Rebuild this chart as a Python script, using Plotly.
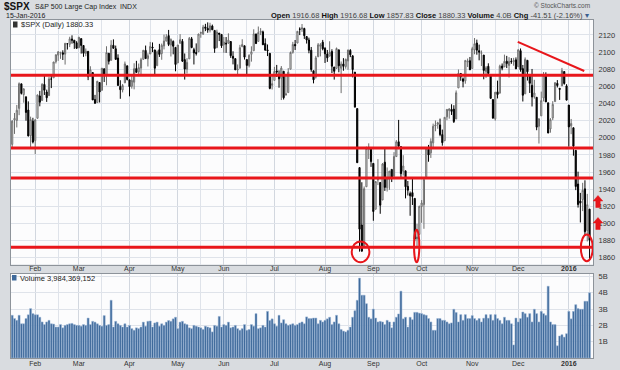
import plotly.graph_objects as go
import pandas as pd

# ---------------- data ----------------
holidays = ['2015-01-19', '2015-02-16', '2015-04-03', '2015-05-25', '2015-07-03',
            '2015-09-07', '2015-11-26', '2015-12-25', '2016-01-01']
dates = [d for d in pd.bdate_range('2015-01-16', '2016-01-15')
         if d.strftime('%Y-%m-%d') not in holidays]

opens = [1992.25, 2020.76, 2020.19, 2034.30, 2062.98, 2050.42, 2047.86, 2032.34, 2002.45, 2019.35,
         1996.67, 2022.71, 2048.86, 2043.45, 2062.28, 2053.47, 2049.38, 2068.55, 2069.98, 2088.78,
         2096.47, 2099.16, 2099.25, 2097.65, 2109.83, 2109.10, 2115.30, 2113.91, 2110.88,
         2105.23, 2115.76, 2107.72, 2098.54, 2100.91, 2072.25, 2076.14, 2044.69, 2041.10, 2064.56,
         2055.35, 2080.59, 2072.84, 2098.69, 2090.32, 2107.99, 2103.94, 2093.10, 2059.94, 2055.78,
         2064.11, 2084.05,
         2067.63, 2060.03, 2064.87, 2080.79, 2076.94, 2081.29, 2091.51, 2102.03, 2092.28, 2097.82,
         2105.96, 2102.58, 2084.11, 2102.82, 2098.27, 2107.21, 2112.80, 2119.29, 2108.35, 2112.49,
         2105.52,
         2087.38, 2110.23, 2112.63, 2091.26, 2079.96, 2092.13, 2115.56, 2102.87, 2099.62, 2100.43,
         2122.07, 2121.30, 2129.45, 2127.79, 2125.55, 2130.36, 2125.34, 2105.13, 2122.27, 2120.66,
         2108.64, 2110.41, 2110.64, 2112.35, 2095.09, 2092.34, 2079.07, 2081.12, 2106.24, 2107.43,
         2091.34, 2084.26, 2097.40, 2101.58, 2121.06, 2112.50, 2123.16, 2123.65, 2109.96, 2102.62,
         2098.63, 2061.19,
         2067.00, 2078.03, 2073.95, 2069.52, 2077.66, 2049.73, 2052.74, 2080.03, 2099.72, 2109.01,
         2110.55, 2126.80, 2126.85, 2127.55, 2118.21, 2114.16, 2102.24, 2078.19, 2070.75, 2094.70,
         2106.78, 2111.60,
         2104.49, 2097.68, 2095.27, 2100.75, 2082.61, 2080.98, 2102.66, 2081.10, 2086.19, 2083.15,
         2089.70, 2101.99, 2095.69, 2076.61, 2034.08, 1965.15, 1898.08, 1872.75, 1942.77, 1986.06,
         1986.73,
         1970.09, 1916.52, 1950.79, 1947.76, 1927.30, 1971.45, 1941.59, 1951.45, 1963.06, 1955.10,
         1978.02, 1995.33, 1989.66, 1960.84, 1961.39, 1943.24, 1934.81, 1935.93, 1929.18, 1881.90,
         1887.14,
         1919.65, 1921.77, 1954.33, 1986.63, 1982.34, 1994.01, 2013.73, 2015.65, 2015.00, 2003.66,
         1996.47, 2024.37, 2031.73, 2033.13, 2033.47, 2021.88, 2058.19, 2075.08, 2068.75, 2066.48,
         2088.35, 2090.00,
         2080.76, 2102.63, 2110.60, 2101.68, 2098.60, 2096.56, 2077.19, 2083.41, 2072.29, 2044.64,
         2022.08, 2053.67, 2051.99, 2083.70, 2082.82, 2089.41, 2084.42, 2089.30, 2088.82, 2090.95,
         2082.93, 2101.71, 2080.71, 2051.24, 2090.42, 2073.39, 2061.17, 2047.93, 2047.27, 2013.37,
         2025.55, 2046.50, 2073.76, 2040.81, 2010.27, 2023.15, 2042.20, 2063.52, 2057.77, 2060.54,
         2077.34, 2060.59,
         2038.20, 2013.78, 2011.71, 1985.32, 1945.97, 1926.12, 1927.83, 1940.34, 1891.68, 1916.68]

highs = [2020.46, 2028.94, 2038.29, 2064.62, 2062.98, 2057.62, 2047.86, 2042.49, 2024.64, 2023.32,
         2021.66, 2050.30, 2054.74, 2063.55, 2072.40, 2056.16, 2070.86, 2073.48, 2088.53, 2097.03,
         2101.30, 2100.23, 2102.13, 2110.61, 2110.05, 2117.94, 2119.59, 2113.91, 2112.74,
         2117.52, 2115.76, 2107.72, 2104.25, 2100.91, 2083.49, 2076.14, 2050.08, 2066.41, 2064.56,
         2081.41, 2080.59, 2106.85, 2098.69, 2113.92, 2114.86, 2107.63, 2097.43, 2067.15, 2062.83,
         2088.97, 2084.05,
         2067.63, 2072.17, 2086.99, 2089.81, 2086.69, 2093.31, 2102.61, 2107.65, 2098.62, 2111.91,
         2111.30, 2102.58, 2101.94, 2109.64, 2109.98, 2120.49, 2120.92, 2125.92, 2116.04, 2113.65,
         2105.52,
         2108.41, 2120.95, 2115.24, 2098.42, 2092.90, 2117.66, 2117.69, 2105.06, 2110.19, 2121.45,
         2123.89, 2131.78, 2133.02, 2134.72, 2134.28, 2132.15, 2125.34, 2126.22, 2122.27, 2120.66,
         2117.61, 2117.59, 2121.92, 2112.89, 2100.99, 2093.01, 2085.62, 2108.50, 2115.02, 2107.43,
         2091.34, 2097.40, 2106.79, 2126.65, 2121.64, 2129.87, 2128.03, 2125.10, 2116.04, 2108.92,
         2098.63, 2074.28,
         2082.78, 2085.06, 2078.61, 2083.74, 2077.66, 2074.28, 2081.31, 2100.67, 2111.98, 2114.14,
         2124.42, 2128.91, 2132.82, 2128.49, 2118.51, 2116.87, 2106.01, 2078.19, 2095.60, 2110.60,
         2110.48, 2114.24,
         2105.70, 2102.51, 2112.66, 2103.32, 2082.61, 2105.35, 2102.66, 2089.06, 2092.93, 2092.45,
         2102.87, 2103.47, 2096.17, 2076.61, 2034.08, 1965.15, 1948.04, 1943.09, 1989.60, 1993.48,
         1986.73,
         1970.09, 1948.91, 1975.01, 1947.76, 1970.42, 1988.63, 1965.29, 1961.05, 1963.06, 1983.19,
         1997.26, 2020.86, 1989.66, 1979.64, 1961.39, 1949.52, 1937.17, 1952.89, 1929.18, 1899.48,
         1920.53,
         1927.21, 1951.36, 1989.17, 1991.62, 1999.31, 2016.50, 2020.13, 2018.66, 2022.34, 2009.56,
         2024.15, 2033.54, 2034.45, 2039.12, 2037.97, 2055.20, 2079.74, 2075.14, 2070.37, 2090.35,
         2092.52, 2094.32,
         2106.20, 2116.48, 2114.59, 2108.78, 2101.91, 2096.56, 2083.67, 2086.94, 2072.29, 2044.64,
         2053.22, 2066.69, 2085.31, 2086.74, 2097.06, 2095.61, 2094.12, 2093.00, 2093.29, 2093.81,
         2103.37, 2104.27, 2085.00, 2093.84, 2090.42, 2073.85, 2080.33, 2067.65, 2047.27, 2022.92,
         2053.87, 2076.72, 2076.37, 2040.81, 2022.90, 2042.74, 2064.73, 2067.36, 2057.77, 2081.56,
         2077.34, 2062.54,
         2038.20, 2021.94, 2011.71, 1985.32, 1960.40, 1935.65, 1947.38, 1950.33, 1934.47, 1916.68]

lows = [1988.12, 2004.49, 2012.04, 2026.38, 2050.54, 2040.97, 2019.91, 2001.49, 1989.18, 1993.38,
        1980.90, 2022.71, 2036.72, 2043.45, 2049.97, 2041.88, 2048.62, 2057.99, 2069.98, 2086.70,
        2089.80, 2092.15, 2090.79, 2085.44, 2103.00, 2105.87, 2109.89, 2103.76, 2103.75,
        2104.50, 2098.26, 2094.49, 2095.22, 2067.27, 2072.21, 2044.16, 2039.69, 2041.10, 2041.17,
        2055.35, 2065.08, 2061.23, 2085.56, 2090.32, 2104.42, 2091.50, 2061.05, 2045.50, 2052.96,
        2064.11, 2067.04,
        2048.38, 2057.32, 2056.52, 2076.10, 2073.30, 2074.29, 2091.51, 2092.33, 2083.24, 2097.82,
        2100.02, 2072.37, 2084.11, 2094.38, 2091.05, 2103.19, 2112.80, 2107.04, 2094.89, 2097.41,
        2077.59,
        2087.38, 2110.23, 2088.46, 2067.93, 2074.99, 2092.13, 2104.58, 2085.57, 2096.04, 2100.43,
        2116.81, 2120.01, 2124.50, 2122.59, 2122.95, 2126.06, 2099.18, 2105.13, 2112.86, 2104.89,
        2099.14, 2099.14, 2109.61, 2093.23, 2085.67, 2079.11, 2072.14, 2081.12, 2106.24, 2091.33,
        2072.49, 2082.10, 2088.86, 2101.58, 2109.45, 2112.50, 2119.89, 2108.58, 2101.78, 2095.38,
        2056.64, 2056.32,
        2067.00, 2071.02, 2058.40, 2044.02, 2044.66, 2049.73, 2052.74, 2080.03, 2098.18, 2102.49,
        2110.55, 2119.88, 2123.66, 2115.40, 2110.00, 2098.63, 2077.09, 2063.52, 2069.09, 2094.08,
        2094.97, 2102.07,
        2087.31, 2088.60, 2095.27, 2075.53, 2067.91, 2080.98, 2076.49, 2052.09, 2078.26, 2080.61,
        2079.30, 2094.14, 2070.53, 2035.73, 1970.89, 1867.01, 1867.08, 1872.75, 1942.77, 1975.19,
        1965.98,
        1903.07, 1916.52, 1944.72, 1911.21, 1927.30, 1937.88, 1937.19, 1939.19, 1948.27, 1954.30,
        1977.93, 1986.73, 1953.45, 1955.80, 1929.22, 1932.57, 1908.92, 1921.50, 1879.21, 1871.91,
        1887.14,
        1900.70, 1893.70, 1954.33, 1971.99, 1976.44, 1987.53, 2007.61, 2010.55, 2001.78, 1990.73,
        1996.47, 2020.46, 2022.31, 2026.61, 2017.22, 2021.88, 2058.19, 2066.53, 2058.84, 2063.11,
        2082.63, 2079.34,
        2080.76, 2097.51, 2096.98, 2090.41, 2083.74, 2068.24, 2069.91, 2074.85, 2045.66, 2022.02,
        2019.94, 2045.90, 2051.99, 2078.76, 2082.82, 2081.39, 2070.29, 2086.30, 2084.13, 2080.41,
        2082.93, 2077.11, 2042.35, 2051.24, 2066.78, 2052.32, 2036.53, 2045.67, 2008.80, 1993.26,
        2025.55, 2042.43, 2041.66, 2005.33, 2005.93, 2020.49, 2042.20, 2058.73, 2044.20, 2060.54,
        2061.97, 2043.62,
        1989.68, 2004.17, 1979.05, 1938.83, 1918.46, 1901.10, 1914.35, 1886.41, 1878.93, 1857.83]

closes = [2019.42, 2022.55, 2032.12, 2063.15, 2051.82, 2057.09, 2029.55, 2002.16, 2021.25, 1994.99,
          2020.85, 2050.03, 2041.51, 2062.52, 2055.47, 2046.74, 2068.59, 2068.53, 2088.48, 2096.99,
          2100.34, 2099.68, 2097.45, 2110.30, 2109.66, 2115.48, 2113.86, 2110.74, 2104.50,
          2117.39, 2107.78, 2098.53, 2101.04, 2071.26, 2079.43, 2044.16, 2040.24, 2065.95, 2053.40,
          2081.19, 2074.28, 2099.50, 2089.27, 2108.10, 2104.42, 2091.50, 2061.05, 2056.15, 2061.02,
          2086.24, 2067.89,
          2059.69, 2066.96, 2080.62, 2076.33, 2081.90, 2091.18, 2102.06, 2092.43, 2095.84, 2106.63,
          2104.99, 2081.18, 2100.40, 2097.29, 2107.96, 2112.93, 2117.69, 2108.92, 2114.76, 2106.85,
          2085.51,
          2108.29, 2114.49, 2089.46, 2080.15, 2088.00, 2116.10, 2105.33, 2099.12, 2098.48, 2121.10,
          2122.73, 2129.20, 2127.83, 2125.85, 2130.82, 2126.06, 2104.20, 2123.48, 2120.79, 2107.39,
          2111.73, 2109.60, 2114.07, 2095.84, 2092.83, 2079.28, 2080.15, 2105.20, 2108.86, 2094.11,
          2084.43, 2096.29, 2100.44, 2121.24, 2109.99, 2122.85, 2124.20, 2108.58, 2102.31, 2101.49,
          2057.64, 2063.11,
          2077.42, 2076.78, 2068.76, 2081.34, 2046.68, 2051.31, 2076.62, 2099.60, 2108.95, 2107.40,
          2124.29, 2126.64, 2128.28, 2119.21, 2114.15, 2102.15, 2079.65, 2067.64, 2093.25, 2108.57,
          2108.63, 2103.84,
          2098.04, 2093.32, 2099.84, 2083.56, 2077.57, 2104.18, 2084.07, 2086.05, 2083.39, 2091.54,
          2102.44, 2096.92, 2079.61, 2035.73, 1970.89, 1893.21, 1867.61, 1940.51, 1987.66, 1988.87,
          1972.18,
          1913.85, 1948.86, 1951.13, 1921.22, 1969.41, 1942.04, 1952.29, 1961.05, 1953.03, 1978.09,
          1995.31, 1990.20, 1958.03, 1966.97, 1942.74, 1938.76, 1932.24, 1931.34, 1881.77, 1884.09,
          1920.03,
          1923.82, 1951.36, 1987.05, 1979.92, 1995.83, 2013.43, 2014.89, 2017.46, 2003.69, 1994.24,
          2023.86, 2033.11, 2033.66, 2030.77, 2018.94, 2052.51, 2075.15, 2071.18, 2065.89, 2090.35,
          2089.41, 2079.36,
          2104.05, 2109.79, 2102.31, 2099.93, 2099.20, 2078.58, 2081.72, 2075.00, 2045.97, 2023.04,
          2053.19, 2050.44, 2083.58, 2081.24, 2089.17, 2086.59, 2089.14, 2088.87, 2090.11, 2080.41,
          2102.63, 2079.51, 2049.62, 2091.69, 2077.07, 2063.59, 2047.62, 2052.23, 2012.37, 2021.94,
          2043.41, 2073.07, 2041.89, 2005.55, 2021.15, 2038.97, 2064.29, 2060.99, 2056.50, 2078.36,
          2063.36, 2043.94,
          2012.66, 2016.71, 1990.26, 1943.09, 1922.03, 1923.67, 1938.68, 1890.28, 1921.84, 1880.33]

# volume in billions
volumes = [2.62, 2.42, 2.31, 2.62, 2.10, 2.10, 2.42, 2.65, 3.03, 2.72,
           2.65, 2.65, 2.50, 2.21, 2.05, 2.21, 2.31, 2.10, 2.08, 1.90, 1.90, 2.05, 1.85, 2.00,
           2.05, 2.10, 2.12, 2.05, 2.00,
           2.00, 1.95, 2.05, 2.00, 2.45, 2.05, 2.25, 2.20, 2.10, 2.00, 1.95, 2.60, 2.00, 2.05,
           3.54, 1.90, 2.25, 2.10, 2.00, 1.90, 2.10, 1.90,
           2.00, 1.80, 1.70, 1.85, 1.80, 1.90, 2.20, 1.95, 2.25, 2.27, 1.90, 2.15, 2.20, 1.95,
           2.10, 2.00, 2.20, 2.30, 2.25, 2.40, 2.50,
           1.80, 2.20, 2.25, 2.10, 2.05, 1.85, 1.80, 2.00, 1.95, 1.90, 1.85, 1.75, 1.95, 1.90,
           1.85, 1.60, 2.00, 1.95, 2.55, 1.90,
           2.05, 2.00, 2.20, 1.85, 1.90, 2.00, 1.80, 1.70, 1.80, 2.05, 1.70, 1.75, 2.05, 1.95,
           2.72, 1.80, 1.85, 2.00, 1.90, 2.86, 2.30, 2.40,
           2.10, 1.95, 2.62, 2.15, 2.35, 2.10, 2.00, 2.05, 2.10, 2.00, 2.05, 2.15, 2.21, 2.10,
           2.52, 2.42, 2.42, 2.45, 2.45, 2.10, 2.31, 2.21,
           2.31, 2.40, 2.50, 2.05, 2.21, 2.62, 2.10, 1.75, 1.65, 1.60, 1.70, 1.90, 2.50, 2.90,
           3.54, 4.90, 3.85, 3.85, 3.33, 2.50, 2.40,
           3.00, 2.45, 2.21, 2.25, 2.21, 2.05, 2.31, 2.21, 1.85, 2.21, 2.50, 2.70, 4.10, 2.40,
           2.50, 1.90, 2.50, 2.35, 2.80, 2.80, 2.75,
           2.72, 2.66, 2.62, 2.42, 2.21, 1.70, 1.70, 2.42, 2.42, 2.31, 2.31, 2.21, 2.10, 2.15,
           2.99, 2.79, 2.21, 2.66, 2.31, 2.66, 2.42, 2.42,
           2.60, 2.42, 2.31, 2.42, 2.21, 2.44, 2.66, 2.44, 2.66, 2.31, 2.66, 2.42, 2.31, 2.10,
           2.50, 2.31, 2.31, 2.10, 0.80, 2.45,
           2.21, 2.42, 2.82, 2.72, 2.50, 2.72, 2.21, 2.99, 2.72, 2.21, 2.86, 2.72, 2.62, 4.40,
           2.21, 2.05, 2.05, 0.75, 1.35, 1.43, 1.28, 1.49,
           2.86, 2.40, 2.86, 3.27, 3.03, 2.99, 2.99, 3.48, 3.48, 4.00]

price_ticks = [1860, 1880, 1900, 1920, 1940, 1960, 1980, 2000, 2020, 2040, 2060, 2080, 2100, 2120]
volume_ticks = [1, 2, 3, 4, 5]
volume_labels = ['1B', '2B', '3B', '4B', '5B']
month_names = ['Feb', 'Mar', 'Apr', 'May', 'Jun', 'Jul', 'Aug', 'Sep', 'Oct', 'Nov', 'Dec', '2016']

# annotation levels drawn on the chart
support_levels = [2073, 1988, 1953, 1872]
trend_line = [(219.8, 2112), (248.7, 2078)]
circled = [(147.6, 155.3, 1854.6, 1879.0), (174.7, 177.0, 1854.6, 1892.7), (247.2, 252.4, 1855.8, 1886.9)]

# ---------------- figure ----------------
W, H = 620, 370
ML, MR, MT, MB = 11, 27, 20, 12
PW, PH = W - ML - MR, H - MT - MB
PRICE_BOTTOM_PX, VOL_TOP_PX = 264.5, 274


def px_x(p):
    return (p - ML) / PW


def px_y(p):
    return (H - MB - p) / PH


n = len(dates)
assert n == len(closes) == len(opens) == len(highs) == len(lows) == len(volumes)
xs = list(range(n))

month_idx = []
for k in range(1, n):
    if dates[k].month != dates[k - 1].month:
        month_idx.append(k)
mid_idx = []
for k in range(1, n):
    if dates[k].day >= 15 and dates[k - 1].day < 15:
        mid_idx.append(k)
ticktext = [('<b>%s</b>' % t if t == '2016' else t) for t in month_names]

fig = go.Figure()
fig.add_trace(go.Candlestick(
    x=xs, open=opens, high=highs, low=lows, close=closes,
    xaxis='x', yaxis='y', whiskerwidth=0,
    increasing=dict(line=dict(color='#6e6e6e', width=1), fillcolor='#ffffff'),
    decreasing=dict(line=dict(color='#000000', width=1), fillcolor='#000000'),
    showlegend=False, hoverinfo='skip'))
fig.add_trace(go.Bar(
    x=xs, y=volumes, xaxis='x2', yaxis='y2',
    marker=dict(color='#3f6a9b', line=dict(color='#9fb9d8', width=0.5)),
    showlegend=False, hoverinfo='skip'))

font_family = 'Arial, Liberation Sans, sans-serif'
grid_c = '#dfe3ea'
axis_common = dict(showline=True, linecolor='#8d939a', linewidth=1, mirror=True,
                   zeroline=False, fixedrange=True, automargin=False)
x_common = dict(range=[-0.52, 252.5], tickmode='array', tickvals=month_idx, ticktext=ticktext,
                ticks='', showgrid=True, gridcolor='#d2d7df', gridwidth=1,
                minor=dict(tickmode='array', tickvals=mid_idx, showgrid=True, gridcolor=grid_c),
                tickfont=dict(size=7, color='#333333', family=font_family), **axis_common)
y_common = dict(side='right', tickmode='array', ticks='outside', ticklen=3,
                tickcolor='rgba(0,0,0,0)', showgrid=True, gridcolor=grid_c,
                tickfont=dict(size=7.5, color='#333333', family=font_family), **axis_common)

fig.update_layout(
    template='none',
    width=W, height=H,
    margin=dict(l=ML, r=MR, t=MT, b=MB, autoexpand=False),
    paper_bgcolor='#d9dce0', plot_bgcolor='#fcfcfd',
    bargap=0.12,
    xaxis=dict(domain=[0, 1], anchor='y', rangeslider=dict(visible=False),
               ticklabelstandoff=-3, **x_common),
    xaxis2=dict(domain=[0, 1], anchor='y2', matches='x', ticklabelstandoff=-1, **x_common),
    yaxis=dict(domain=[px_y(PRICE_BOTTOM_PX), 1], range=[1852, 2137.5],
               tickvals=price_ticks, **y_common),
    yaxis2=dict(domain=[0, px_y(VOL_TOP_PX)], range=[0, 5.15],
                tickvals=volume_ticks, ticktext=volume_labels, **y_common),
)

shapes = []
for lvl in support_levels:
    shapes.append(dict(type='line', xref='x domain', yref='y', x0=0, x1=1, y0=lvl, y1=lvl,
                       line=dict(color='#e8161b', width=3)))
shapes.append(dict(type='line', xref='x', yref='y', x0=trend_line[0][0], y0=trend_line[0][1],
                   x1=trend_line[1][0], y1=trend_line[1][1], line=dict(color='#e8161b', width=2)))
for (a, b, c, d) in circled:
    shapes.append(dict(type='circle', xref='x', yref='y', x0=a, x1=b, y0=c, y1=d,
                       line=dict(color='#e8161b', width=2)))


def arrow_path(cx, top):
    pts = [(cx, top), (cx + 4.8, top + 5.5), (cx + 2.2, top + 5.5), (cx + 2.2, top + 12),
           (cx - 2.2, top + 12), (cx - 2.2, top + 5.5), (cx - 4.8, top + 5.5)]
    return 'M ' + ' L '.join('%.5f,%.5f' % (px_x(x), px_y(y)) for x, y in pts) + ' Z'


for top in (195.5, 217.5):
    shapes.append(dict(type='path', xref='paper', yref='paper', path=arrow_path(598, top),
                       fillcolor='#e8161b', line=dict(color='#e8161b', width=0.5)))

# small legend icons
shapes.append(dict(type='rect', xref='paper', yref='paper', x0=px_x(13), x1=px_x(17.5),
                   y0=px_y(27.5), y1=px_y(21.5), fillcolor='#333333', line=dict(width=0)))
shapes.append(dict(type='rect', xref='paper', yref='paper', x0=px_x(12), x1=px_x(16.5),
                   y0=px_y(280.5), y1=px_y(275), fillcolor='#3f6a9b', line=dict(width=0)))
fig.update_layout(shapes=shapes)

ann = []


def text(x, y, s, size=8, color='#222222', anchor='left', family=font_family):
    ann.append(dict(xref='paper', yref='paper', x=px_x(x), y=px_y(y), text=s, showarrow=False,
                    xanchor=anchor, yanchor='middle', font=dict(size=size, color=color, family=family)))


text(2, 6.5, '<b>$SPX</b>', size=10, color='#111111')
text(33, 6.5, 'S&P 500 Large Cap Index  INDX', size=7, color='#222222')
text(4, 15.5, '15-Jan-2016', size=7, color='#222222')
text(592, 5, '© StockCharts.com', size=6.5, color='#555555', anchor='right')
text(591, 15, '<b>Open</b> <span style="color:#444">1916.68</span> <b>High</b> '
     '<span style="color:#444">1916.68</span> <b>Low</b> <span style="color:#444">1857.83</span> '
     '<b>Close</b> <span style="color:#444">1880.33</span> <b>Volume</b> '
     '<span style="color:#444">4.0B</span> <b>Chg</b> '
     '<span style="color:#444">-41.51 (-2.16%)</span> <span style="color:#3a5f8f">▾</span>',
     size=7.5, color='#111111', anchor='right')
text(19, 24.5, '$SPX (Daily) 1880.33', size=7.5, color='#222222')
text(18, 278.5, 'Volume 3,984,369,152', size=7.5, color='#222222')
fig.update_layout(annotations=ann)

fig.write_html('out.html')
